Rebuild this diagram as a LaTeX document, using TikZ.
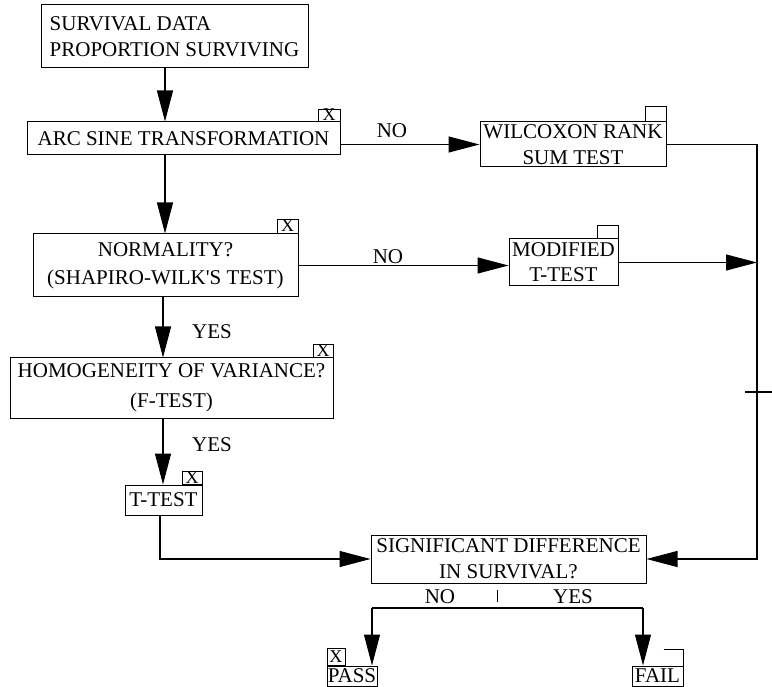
\documentclass[tikz,border=0pt]{standalone}
\usepackage{fontspec}
\setmainfont{Liberation Serif}
\usetikzlibrary{arrows.meta,calc}
\begin{document}
\begin{tikzpicture}[x=1pt,y=-1pt,
  box/.style={draw, line width=1pt, inner sep=0pt, align=center, font=\fontsize{21}{26}\selectfont},
  tag/.style={draw, line width=0.9pt, inner sep=0pt, font=\fontsize{18}{18}\selectfont},
  arr/.style={line width=1.1pt, -{Triangle[length=31pt,width=16pt]}},
  ln/.style={line width=1.1pt},
  lbl/.style={font=\fontsize{21}{21}\selectfont, inner sep=0pt}]
\useasboundingbox[fill=white] (0,0) rectangle (772,687);

% boxes
\node[box, minimum width=267pt, minimum height=63pt, align=left] (data) at (174.5,36.5) {SURVIVAL DATA\\PROPORTION SURVIVING};
\node[box, minimum width=313pt, minimum height=33pt] (arc) at (183.5,138.5) {ARC SINE TRANSFORMATION};
\node[box, minimum width=186pt, minimum height=45pt] (wil) at (573,144.5) {WILCOXON RANK\\SUM TEST};
\node[box, minimum width=265pt, minimum height=63pt, font=\fontsize{21}{28}\selectfont] (norm) at (165.5,265.5) {NORMALITY?\\(SHAPIRO-WILK\textquotesingle S TEST)};
\node[box, minimum width=109pt, minimum height=47pt, font=\fontsize{21}{25}\selectfont] (mod) at (563.5,262.5) {MODIFIED\\T-TEST};
\node[box, minimum width=323pt, minimum height=60pt, font=\fontsize{21}{30}\selectfont] (homo) at (171.5,388) {HOMOGENEITY OF VARIANCE?\\(F-TEST)};
\node[box, minimum width=77pt, minimum height=30pt] (ttest) at (163.5,500) {T-TEST};
\node[box, minimum width=275pt, minimum height=48pt] (sig) at (508.5,559) {SIGNIFICANT DIFFERENCE\\IN SURVIVAL?};
\node[box, minimum width=50pt, minimum height=20pt] (pass) at (352,676) {PASS};
\node[box, minimum width=51pt, minimum height=20pt] (fail) at (657.5,676) {FAIL};

% tags
\node[tag, minimum width=22pt, minimum height=12pt, anchor=south east] (xarc) at (arc.north east) {X};
\node[tag, minimum width=21pt, minimum height=15pt, anchor=south east] (wtag) at (wil.north east) {};
\node[tag, minimum width=21pt, minimum height=14pt, anchor=south east] (xnorm) at (norm.north east) {X};
\node[tag, minimum width=21pt, minimum height=13pt, anchor=south east] (mtag) at (mod.north east) {};
\node[tag, minimum width=20pt, minimum height=13pt, anchor=south east] (xhomo) at (homo.north east) {X};
\node[tag, minimum width=20pt, minimum height=13pt, anchor=south east] (xt) at (ttest.north east) {X};
\node[tag, minimum width=18pt, minimum height=17pt, anchor=south west] (xpass) at (pass.north west) {X};
\coordinate (ftag) at (fail.north east);
\draw[line width=0.9pt] ($(ftag)+(-20,-16)$) -- ($(ftag)+(0,-16)$) -- (ftag);

% helper coordinates
\coordinate (c1) at (165,0);
\coordinate (c2) at (163,0);
\coordinate (c3) at (160,0);
\coordinate (rt) at (757,0);
\coordinate (bl) at (372,608);
\coordinate (br) at (643,608);

% connectors
\draw[arr] (data.south -| c1) -- (arc.north -| c1);
\draw[arr] (arc.east |- wil.west) -- (wil.west);
\node[lbl] (no1) at (392,131) {NO};
\draw[arr] (wil.east) -| (rt |- sig.east) -- (sig.east);
\draw[arr] (arc.south -| c1) -- (norm.north -| c1);
\draw[arr] (norm.east) -- (norm.east -| mod.west);
\node[lbl] (no2) at (388,257) {NO};
\draw[arr] (mod.east) -- (mod.east -| rt);
\draw[arr] (norm.south -| c2) -- (homo.north -| c2);
\node[lbl] (yes1) at (212,332) {YES};
\draw[arr] (homo.south -| c2) -- (ttest.north -| c2);
\node[lbl] (yes2) at (212,445) {YES};
\draw[arr] (ttest.south -| c3) |- (sig.west);

% bottom split
\node[lbl] (no3) at (440,597) {NO};
\node[lbl] (yes3) at (573,597) {YES};
\coordinate (dv) at (497,590);
\draw[line width=0.8pt] (dv) -- ++(0,12);
\draw[ln] (bl) -- (br);
\draw[arr] (bl) -- (bl |- pass.north);
\draw[arr] (br) -- (br |- fail.north);

% stub crossing the right line
\draw[ln] (745,392) -- (772,392);
\end{tikzpicture}
\end{document}
